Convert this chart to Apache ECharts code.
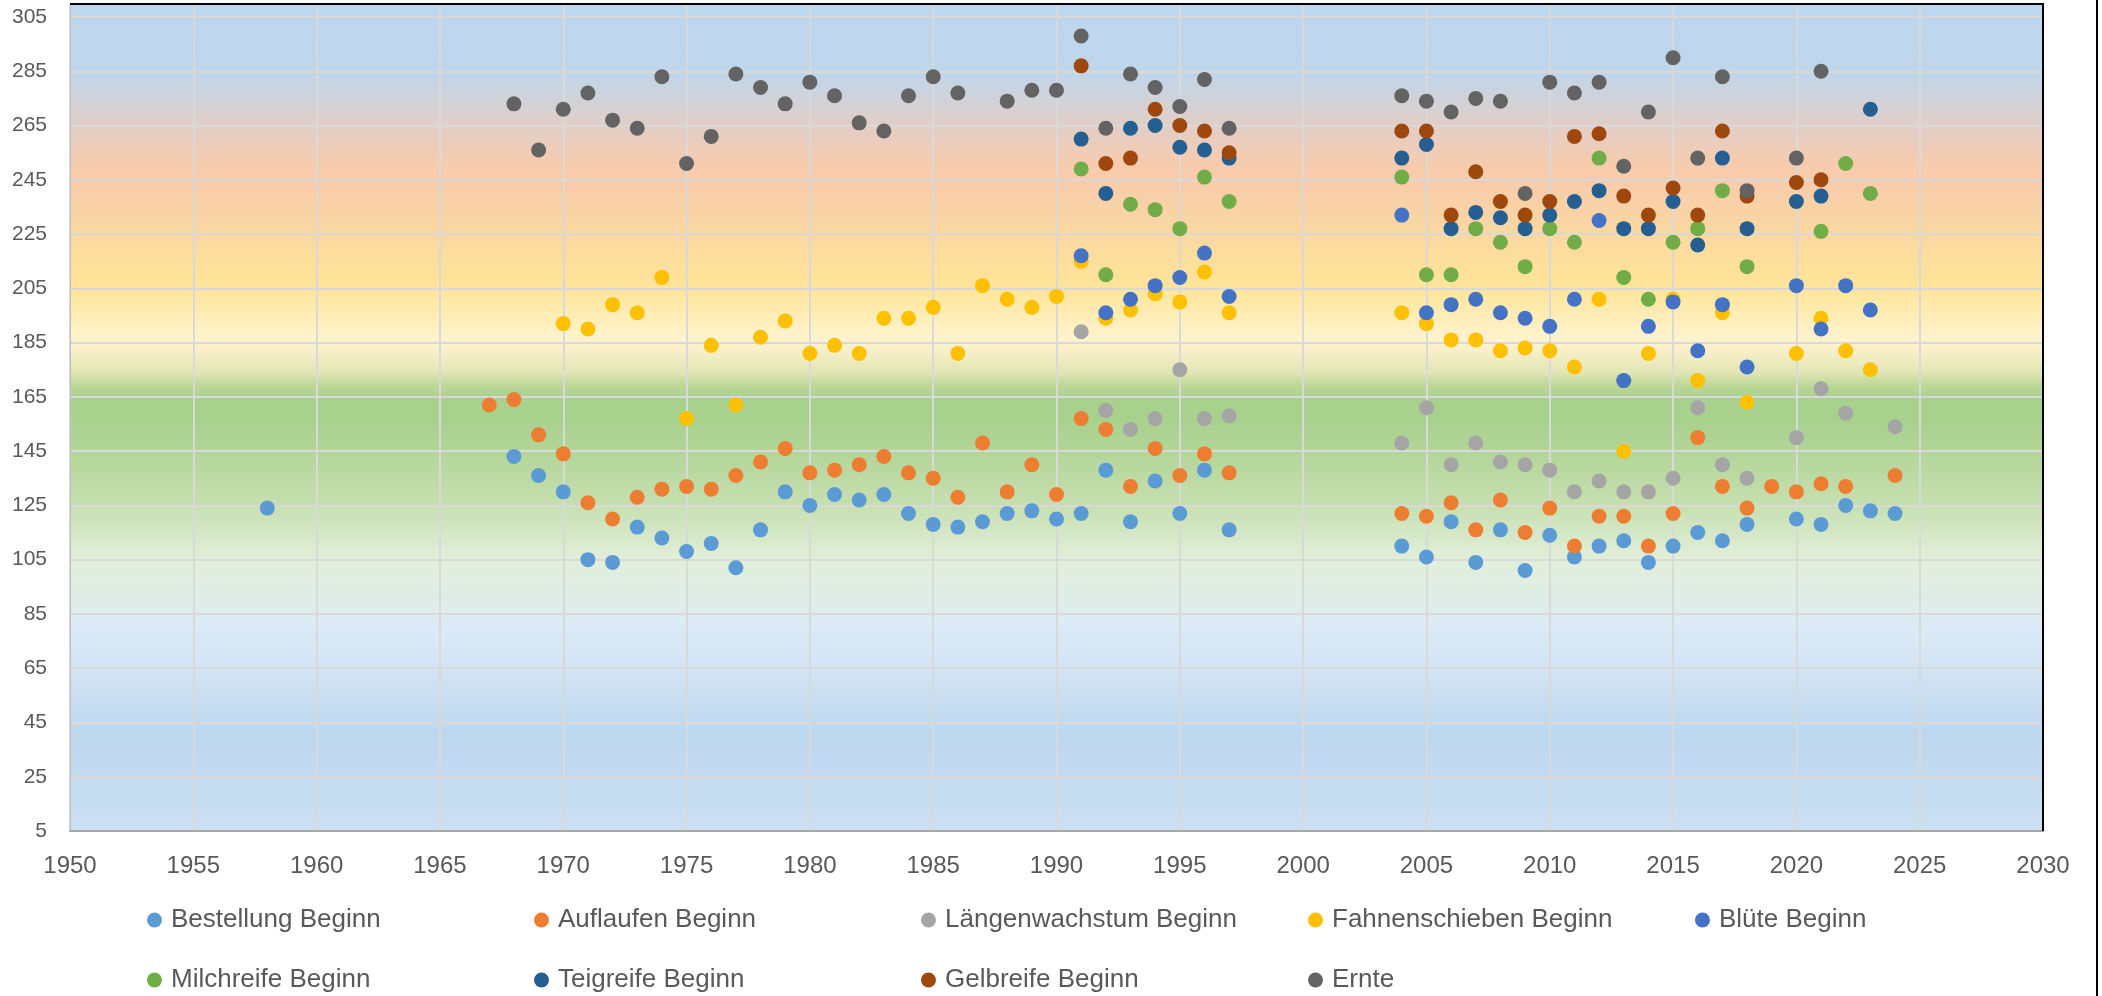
<!DOCTYPE html>
<html><head><meta charset="utf-8">
<script src="https://cdn.jsdelivr.net/npm/echarts@6/dist/echarts.min.js"></script>
<style>html,body{margin:0;padding:0;background:#fff}#c{width:2102px;height:996px}</style>
</head><body><div id="c"></div>
<script>
const seriesNames = ['Bestellung Beginn','Auflaufen Beginn','Längenwachstum Beginn','Fahnenschieben Beginn','Blüte Beginn','Milchreife Beginn','Teigreife Beginn','Gelbreife Beginn','Ernte'];
const seriesColors = ['#5B9BD5','#ED7D31','#A5A5A5','#FFC000','#4472C4','#70AD47','#255E91','#9E480E','#636363'];

const bestellung = [[1958,124],[1968,143],[1969,136],[1970,130],[1971,105],[1972,104],[1973,117],[1974,113],[1975,108],[1976,111],[1977,102],[1978,116],[1979,130],[1980,125],[1981,129],[1982,127],[1983,129],[1984,122],[1985,118],[1986,117],[1987,119],[1988,122],[1989,123],[1990,120],[1991,122],[1992,138],[1993,119],[1994,134],[1995,122],[1996,138],[1997,116],
[2004,110],[2005,106],[2006,119],[2007,104],[2008,116],[2009,101],[2010,114],[2011,106],[2012,110],[2013,112],[2014,104],[2015,110],[2016,115],[2017,112],[2018,118],[2020,120],[2021,118],[2022,125],[2023,123],[2024,122]];

const auflaufen = [[1967,162],[1968,164],[1969,151],[1970,144],[1971,126],[1972,120],[1973,128],[1974,131],[1975,132],[1976,131],[1977,136],[1978,141],[1979,146],[1980,137],[1981,138],[1982,140],[1983,143],[1984,137],[1985,135],[1986,128],[1987,148],[1988,130],[1989,140],[1990,129],[1991,157],[1992,153],[1993,132],[1994,146],[1995,136],[1996,144],[1997,137],
[2004,122],[2005,121],[2006,126],[2007,116],[2008,127],[2009,115],[2010,124],[2011,110],[2012,121],[2013,121],[2014,110],[2015,122],[2016,150],[2017,132],[2018,124],[2019,132],[2020,130],[2021,133],[2022,132],[2024,136]];

const laengenwachstum = [[1991,189],[1992,160],[1993,153],[1994,157],[1995,175],[1996,157],[1997,158],
[2004,148],[2005,161],[2006,140],[2007,148],[2008,141],[2009,140],[2010,138],[2011,130],[2012,134],[2013,130],[2014,130],[2015,135],[2016,161],[2017,140],[2018,135],[2020,150],[2021,168],[2022,159],[2024,154]];

const fahnenschieben = [[1970,192],[1971,190],[1972,199],[1973,196],[1974,209],[1975,157],[1976,184],[1977,162],[1978,187],[1979,193],[1980,181],[1981,184],[1982,181],[1983,194],[1984,194],[1985,198],[1986,181],[1987,206],[1988,201],[1989,198],[1990,202],[1991,215],[1992,194],[1993,197],[1994,203],[1995,200],[1996,211],[1997,196],
[2004,196],[2005,192],[2006,186],[2007,186],[2008,182],[2009,183],[2010,182],[2011,176],[2012,201],[2013,145],[2014,181],[2015,201],[2016,171],[2017,196],[2018,163],[2020,181],[2021,194],[2022,182],[2023,175]];

const bluete = [[1991,217],[1992,196],[1993,201],[1994,206],[1995,209],[1996,218],[1997,202],
[2004,232],[2005,196],[2006,199],[2007,201],[2008,196],[2009,194],[2010,191],[2011,201],[2012,230],[2013,171],[2014,191],[2015,200],[2016,182],[2017,199],[2018,176],[2020,206],[2021,190],[2022,206],[2023,197]];

const milchreife = [[1991,249],[1992,210],[1993,236],[1994,234],[1995,227],[1996,246],[1997,237],
[2004,246],[2005,210],[2006,210],[2007,227],[2008,222],[2009,213],[2010,227],[2011,222],[2012,253],[2013,209],[2014,201],[2015,222],[2016,227],[2017,241],[2018,213],[2021,226],[2022,251],[2023,240]];

const teigreife = [[1991,260],[1992,240],[1993,264],[1994,265],[1995,257],[1996,256],[1997,253],
[2004,253],[2005,258],[2006,227],[2007,233],[2008,231],[2009,227],[2010,232],[2011,237],[2012,241],[2013,227],[2014,227],[2015,237],[2016,221],[2017,253],[2018,227],[2020,237],[2021,239],[2023,271]];

const gelbreife = [[1991,287],[1992,251],[1993,253],[1994,271],[1995,265],[1996,263],[1997,255],
[2004,263],[2005,263],[2006,232],[2007,248],[2008,237],[2009,232],[2010,237],[2011,261],[2012,262],[2013,239],[2014,232],[2015,242],[2016,232],[2017,263],[2018,239],[2020,244],[2021,245]];

const ernte = [[1968,273],[1969,256],[1970,271],[1971,277],[1972,267],[1973,264],[1974,283],[1975,251],[1976,261],[1977,284],[1978,279],[1979,273],[1980,281],[1981,276],[1982,266],[1983,263],[1984,276],[1985,283],[1986,277],[1988,274],[1989,278],[1990,278],[1991,298],[1992,264],[1993,284],[1994,279],[1995,272],[1996,282],[1997,264],
[2004,276],[2005,274],[2006,270],[2007,275],[2008,274],[2009,240],[2010,281],[2011,277],[2012,281],[2013,250],[2014,270],[2015,290],[2016,253],[2017,283],[2018,241],[2020,253],[2021,285]];

const allData = [bestellung, auflaufen, laengenwachstum, fahnenschieben, bluete, milchreife, teigreife, gelbreife, ernte];

const xMin = 1950, xMax = 2030, xStep = 5;
const yMin = 5, yTopLabel = 305, yStep = 20, yMaxExtent = 309.8;

const chart = echarts.init(document.getElementById('c'), null, {renderer:'canvas'});
const FONT = '"Liberation Sans", Arial, sans-serif';

const bg = new echarts.graphic.LinearGradient(0,0,0,1,[
  {offset:0, color:'#BDD7EE'},
  {offset:0.082, color:'#BFD6EB'},
  {offset:0.149, color:'#E3CEC6'},
  {offset:0.195, color:'#F7CBAD'},
  {offset:0.213, color:'#F8CCAB'},
  {offset:0.279, color:'#FAD8A1'},
  {offset:0.343, color:'#FFE598'},
  {offset:0.404, color:'#FFF3CE'},
  {offset:0.418, color:'#F9F0CA'},
  {offset:0.445, color:'#E2E6B5'},
  {offset:0.461, color:'#BDD898'},
  {offset:0.475, color:'#A9D18E'},
  {offset:0.503, color:'#A9D18E'},
  {offset:0.539, color:'#B2D598'},
  {offset:0.606, color:'#C7DFB0'},
  {offset:0.672, color:'#E2EFDA'},
  {offset:0.735, color:'#DFECEC'},
  {offset:0.745, color:'#DDEBF6'},
  {offset:0.803, color:'#D3E4F4'},
  {offset:0.884, color:'#BDD7EE'},
  {offset:1, color:'#CCE0F2'}
]);

const legendCommon = {
  left:147, itemWidth:15, itemHeight:15, itemGap:63, padding:0, icon:'circle',
  selectedMode:false,
  textStyle:{fontFamily:FONT, fontSize:26, color:'#595959', width:300, overflow:'none', lineHeight:30, padding:[0,0,0,4]}
};

chart.setOption({
  animation:false,
  textStyle:{fontFamily:FONT},
  grid:{left:70, right:59, top:4, bottom:165, show:true, backgroundColor:bg, borderWidth:0},
  xAxis:{type:'value', min:xMin, max:xMax, interval:xStep,
    axisLine:{show:true, lineStyle:{color:'#A6A6A6', width:2}},
    axisTick:{show:false},
    axisLabel:{fontSize:24, color:'#595959', margin:23, fontFamily:FONT,
      formatter:function(v){ return String(Math.round(v)); }},
    splitLine:{show:true, lineStyle:{color:'#D9D9D9', width:2}}
  },
  yAxis:{type:'value', min:yMin, max:yMaxExtent, interval:yStep,
    axisLine:{show:true, lineStyle:{color:'#BFBFBF', width:1}},
    axisTick:{show:false},
    axisLabel:{fontSize:21, color:'#595959', margin:23, fontFamily:FONT,
      formatter:function(v){ return (Math.abs((v - yMin) % yStep) < 1e-6 && v <= yTopLabel) ? String(Math.round(v)) : ''; }},
    splitLine:{show:true, lineStyle:{color:'#D9D9D9', width:2}}
  },
  legend:[
    Object.assign({}, legendCommon, {top:905, data:seriesNames.slice(0,5)}),
    Object.assign({}, legendCommon, {top:965, data:seriesNames.slice(5)})
  ],
  graphic:[
    {type:'line', z:100, shape:{x1:70, y1:4, x2:2044, y2:4}, style:{stroke:'#000', lineWidth:2}},
    {type:'line', z:100, shape:{x1:2043, y1:4, x2:2043, y2:831}, style:{stroke:'#000', lineWidth:2}},
    {type:'line', z:100, shape:{x1:2097, y1:0, x2:2097, y2:996}, style:{stroke:'#000', lineWidth:2}}
  ],
  series: seriesNames.map(function(n,i){
    return {name:n, type:'scatter', data:allData[i], symbol:'circle', symbolSize:15,
      itemStyle:{color:seriesColors[i], opacity:1}, emphasis:{disabled:true}};
  })
});
</script></body></html>
